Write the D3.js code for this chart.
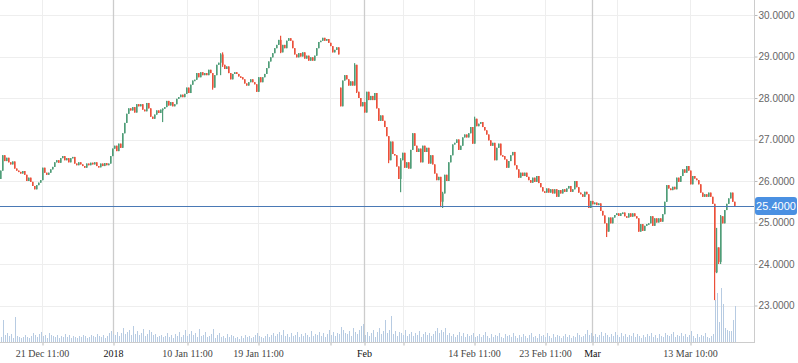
<!DOCTYPE html>
<html lang="en">
<head>
<meta charset="UTF-8">
<title>Price chart</title>
<style>
  body { margin: 0; padding: 0; background: #fff; }
  svg { display: block; }
  .yaxis text { font-family: "Liberation Sans", Arial, sans-serif; font-size: 10px; fill: #666; }
  .xaxis text { font-family: "Liberation Serif", "Times New Roman", serif; font-size: 10px; fill: #444; }
  .xaxis text.month { fill: #111; }
</style>
</head>
<body>
<svg width="798" height="363"></svg>
<script src="https://d3js.org/d3.v7.min.js"></script>
<script>
// closing prices, one per candle (open = previous close unless listed in gapOpen)
const closes = [
  26.25, 26.62, 26.48, 26.56, 26.45, 26.4, 26.47, 26.3, 26.25, 26.22, 26.18, 26.24, 26.15, 26.0, 26.08, 25.98, 25.88, 25.8, 25.9, 25.96,
  26.02, 26.32, 26.2, 26.15, 26.2, 26.28, 26.34, 26.45, 26.5, 26.44, 26.55, 26.6, 26.5, 26.55, 26.45, 26.55, 26.58, 26.42, 26.38, 26.45,
  26.4, 26.36, 26.32, 26.42, 26.38, 26.44, 26.4, 26.45, 26.36, 26.33, 26.42, 26.36, 26.43, 26.38, 26.42, 26.6, 26.78, 26.85, 26.72, 26.9,
  26.8, 27.15, 27.4, 27.62, 27.75, 27.7, 27.78, 27.65, 27.85, 27.8, 27.85, 27.72, 27.68, 27.88, 27.75, 27.55, 27.5, 27.6, 27.7, 27.64,
  27.72, 27.74, 27.78, 27.93, 27.82, 27.9, 27.8, 27.85, 27.98, 28.02, 28.08, 28.02, 28.1, 28.25, 28.12, 28.32, 28.42, 28.44, 28.6, 28.5,
  28.62, 28.55, 28.6, 28.55, 28.68, 28.6, 28.25, 28.55, 28.8, 28.85, 29.05, 28.8, 28.7, 28.76, 28.6, 28.45, 28.58, 28.62, 28.58, 28.52,
  28.5, 28.45, 28.35, 28.3, 28.38, 28.45, 28.38, 28.33, 28.15, 28.5, 28.38, 28.5, 28.58, 28.72, 28.88, 28.98, 29.08, 29.2, 29.28, 29.4,
  29.1, 29.28, 29.2, 29.38, 29.44, 29.38, 29.2, 29.05, 28.98, 29.08, 29.0, 29.1, 28.95, 29.02, 28.9, 28.98, 28.9, 29.02, 29.2, 29.35,
  29.38, 29.45, 29.38, 29.42, 29.33, 29.25, 29.1, 29.16, 29.22, 29.05, 27.8, 28.42, 28.55, 28.45, 28.3, 28.4, 28.3, 28.8, 28.15, 28.0,
  27.8, 27.9, 27.65, 28.15, 27.95, 28.05, 27.95, 28.12, 27.75, 27.45, 27.58, 27.45, 27.3, 27.08, 26.5, 26.95, 26.65, 26.62, 26.35, 26.05,
  26.5, 26.68, 26.32, 26.45, 26.3, 26.75, 27.15, 26.85, 26.7, 26.78, 26.45, 26.85, 26.7, 26.8, 26.42, 26.62, 26.4, 26.18, 26.02, 26.1,
  25.5, 25.7, 26.15, 26.0, 26.45, 26.62, 26.88, 26.92, 27.0, 26.75, 26.85, 27.05, 27.12, 27.05, 27.15, 27.3, 26.9, 27.5, 27.32, 27.38,
  27.42, 27.3, 27.22, 27.12, 26.98, 26.85, 26.92, 26.5, 26.8, 26.9, 26.62, 26.6, 26.52, 26.32, 26.48, 26.62, 26.7, 26.38, 26.28, 26.08,
  26.2, 26.12, 26.2, 26.1, 26.02, 25.96, 26.08, 25.98, 26.12, 25.95, 25.85, 25.75, 25.72, 25.82, 25.72, 25.8, 25.7, 25.8, 25.62, 25.78,
  25.7, 25.8, 25.74, 25.82, 25.88, 25.74, 25.8, 26.0, 25.85, 25.72, 25.68, 25.62, 25.74, 25.68, 25.35, 25.52, 25.44, 25.48, 25.42, 25.46,
  25.28, 25.17, 24.98, 24.78, 25.12, 24.98, 25.12, 25.18, 25.22, 25.16, 25.22, 25.24, 25.15, 25.12, 25.22, 25.14, 25.22, 25.15, 25.1, 24.78,
  24.96, 24.8, 24.92, 24.96, 24.98, 25.15, 24.92, 25.1, 25.0, 25.1, 25.02, 25.2, 25.5, 25.9, 25.82, 25.78, 25.86, 25.8, 26.08, 25.98,
  26.12, 26.28, 26.2, 26.36, 26.25, 25.92, 26.12, 26.06, 26.02, 25.92, 25.72, 25.62, 25.68, 25.62, 25.72, 25.62, 25.45, 23.8, 24.4, 24.05,
  25.15, 24.98, 25.3, 25.45, 25.58, 25.72, 25.5, 25.4
];
const gapIdx = [0, 170];
const gapOpen = [26.05, 28.25];

// candles with visible wicks
const wickIdx = [81, 106, 110, 111, 140, 177, 178, 194, 200, 220, 221, 237, 303, 357, 358, 359, 360];
const wickLow = [27.42, 28.2, 28.55, 28.75, 29.08, 28.3, 28.12, 26.43, 25.73, 25.37, 25.35, 26.9, 24.65, 23.13, 23.78, 24.0, 24.0];
const wickHigh = [27.75, 28.6, 29.08, 29.1, 29.5, 28.84, 28.8, 27.08, 26.55, 26.1, 25.74, 27.55, 24.98, 25.45, 24.87, 24.4, 25.18];

const volumes = [
  5, 22, 7, 9, 6, 8, 4, 25, 6, 5, 4, 5, 7, 5, 4, 6, 9, 7, 5, 8,
  10, 6, 7, 4, 9, 7, 6, 5, 7, 4, 6, 5, 8, 5, 7, 4, 6, 5, 4, 6,
  5, 7, 6, 4, 5, 7, 6, 5, 8, 6, 5, 7, 4, 6, 9, 11, 8, 7, 10, 6,
  9, 14, 8, 10, 12, 7, 16, 8, 11, 7, 9, 13, 6, 8, 12, 10, 7, 8, 5, 6,
  7, 5, 6, 9, 5, 7, 4, 8, 6, 10, 5, 7, 12, 6, 8, 11, 7, 9, 5, 13,
  6, 7, 10, 5, 6, 8, 13, 4, 7, 9, 5, 6, 4, 8, 5, 7, 6, 4, 5, 3,
  6, 4, 7, 5, 6, 4, 5, 7, 9, 6, 5, 4, 6, 8, 5, 7, 9, 6, 8, 10,
  7, 12, 6, 8, 5, 9, 6, 7, 10, 5, 8, 6, 9, 7, 5, 11, 6, 8, 7, 10,
  6, 9, 5, 8, 12, 7, 10, 6, 9, 8, 15, 12, 9, 8, 11, 6, 14, 10, 8, 12,
  16, 18, 7, 10, 6, 9, 12, 5, 10, 14, 8, 11, 22, 9, 12, 26, 8, 11, 6, 10,
  9, 7, 12, 6, 8, 10, 6, 9, 7, 11, 5, 8, 10, 7, 9, 6, 8, 11, 14, 9,
  12, 10, 14, 7, 9, 6, 8, 5, 7, 10, 6, 9, 5, 8, 6, 7, 9, 5, 6, 8,
  5, 7, 10, 6, 4, 8, 5, 7, 6, 9, 5, 4, 8, 6, 7, 5, 9, 6, 4, 7,
  5, 8, 6, 4, 7, 9, 5, 6, 4, 8, 6, 7, 5, 9, 6, 4, 8, 5, 7, 6,
  4, 6, 8, 5, 7, 4, 6, 5, 9, 7, 5, 6, 8, 12, 7, 9, 6, 8, 5, 7,
  10, 6, 9, 7, 5, 8, 6, 10, 7, 5, 9, 6, 8, 5, 7, 6, 9, 5, 8, 6,
  4, 7, 5, 8, 6, 9, 5, 7, 4, 8, 6, 5, 9, 7, 6, 8, 10, 5, 7, 6,
  9, 6, 8, 5, 7, 11, 6, 4, 8, 5, 7, 6, 9, 5, 4, 6, 8, 42, 49, 20,
  54, 38, 14, 12, 11, 11, 22, 36
];

const priceTicks = [23, 24, 25, 26, 27, 28, 29, 30];
const lastPrice = 25.4;

// time axis, positions given as candle index
const tickPos = [20.5, 93, 128.5, 164.5, 201, 236.5, 272, 308, 344.5];
const tickText = ["21 Dec 11:00", "10 Jan 11:00", "19 Jan 11:00", "", "", "14 Feb 11:00", "23 Feb 11:00", "", "13 Mar 10:00"];
const monthPos = [56, 181.5, 295.5];
const monthText = ["2018", "Feb", "Mar"];

const svg = d3.select("svg");
const plotRight = 754, plotBottom = 342;

const x = d3.scaleLinear().domain([0, closes.length - 1]).range([1, 735]);
const y = d3.scaleLinear().domain([23, 30]).range([305.5, 15]);
const v = d3.scaleLinear().domain([0, 60]).range([plotBottom, plotBottom - 60]);
const crisp = p => Math.round(p) + 0.5;

// build candles
const candles = closes.map((c, i) => {
  const g = gapIdx.indexOf(i);
  const o = g >= 0 ? gapOpen[g] : closes[i - 1];
  const w = wickIdx.indexOf(i);
  const lo = w >= 0 ? Math.min(wickLow[w], o, c) : Math.min(o, c);
  const hi = w >= 0 ? Math.max(wickHigh[w], o, c) : Math.max(o, c);
  return { i, o, c, lo, hi, vol: volumes[i] };
});

// grid
svg.append("g").selectAll("line").data(priceTicks).join("line")
  .attr("x1", 0).attr("x2", plotRight)
  .attr("y1", d => crisp(y(d))).attr("y2", d => crisp(y(d)))
  .attr("stroke", "#eeeeee");

svg.append("g").selectAll("line").data(tickPos).join("line")
  .attr("x1", d => crisp(x(d))).attr("x2", d => crisp(x(d)))
  .attr("y1", 0).attr("y2", plotBottom)
  .attr("stroke", "#eeeeee");

svg.append("g").selectAll("line").data(monthPos).join("line")
  .attr("x1", d => crisp(x(d))).attr("x2", d => crisp(x(d)))
  .attr("y1", 0).attr("y2", plotBottom)
  .attr("stroke", "#cccccc").attr("stroke-width", 1.3);

// volume
svg.append("g").selectAll("rect").data(candles).join("rect")
  .attr("x", d => Math.round(x(d.i)))
  .attr("width", 1)
  .attr("y", d => v(d.vol))
  .attr("height", d => plotBottom - v(d.vol))
  .attr("fill", "#b7cbe2");

// candles (left edge on an even pixel so the colour survives)
const colour = d => d.c >= d.o ? "#4f9d78" : "#eb503a";
const left = d => Math.round(x(d.i)) - 1;
const cg = svg.append("g");
cg.selectAll("rect.wick").data(candles).join("rect")
  .attr("class", "wick")
  .attr("x", left)
  .attr("width", 1.2)
  .attr("y", d => y(d.hi))
  .attr("height", d => Math.max(1, y(d.lo) - y(d.hi)))
  .attr("fill", colour);
cg.selectAll("rect.body").data(candles).join("rect")
  .attr("class", "body")
  .attr("x", left)
  .attr("width", 1.6)
  .attr("y", d => y(Math.max(d.o, d.c)))
  .attr("height", d => Math.max(1.5, Math.abs(y(d.o) - y(d.c))))
  .attr("fill", colour);

// last price line
svg.append("line")
  .attr("x1", 0).attr("x2", plotRight)
  .attr("y1", crisp(y(lastPrice))).attr("y2", crisp(y(lastPrice)))
  .attr("stroke", "#4a79b5");

// axes
const yAxis = svg.append("g").attr("class", "yaxis")
  .attr("transform", `translate(${plotRight + 0.5},0)`)
  .call(d3.axisRight(y).tickValues(priceTicks).tickSize(3).tickPadding(1).tickFormat(d3.format(".4f")));
yAxis.select(".domain").remove();
yAxis.selectAll("line").attr("stroke", "#bbbbbb");

const xAxis = svg.append("g").attr("class", "xaxis")
  .attr("transform", `translate(0,${plotBottom + 0.5})`)
  .call(d3.axisBottom(x).tickValues(tickPos.concat(monthPos)).tickSize(3).tickPadding(4)
    .tickFormat((d, i) => i < tickPos.length ? tickText[i] : monthText[i - tickPos.length]));
xAxis.select(".domain").remove();
xAxis.selectAll(".tick line").attr("stroke", "#bbbbbb").attr("transform", d => `translate(${crisp(x(d)) - x(d)},0)`);
xAxis.selectAll(".tick text").classed("month", (d, i) => i >= tickPos.length);

svg.append("line")
  .attr("x1", plotRight + 0.5).attr("x2", plotRight + 0.5)
  .attr("y1", 0).attr("y2", plotBottom + 1)
  .attr("stroke", "#cccccc");
svg.append("line")
  .attr("x1", 0).attr("x2", plotRight)
  .attr("y1", plotBottom + 0.5).attr("y2", plotBottom + 0.5)
  .attr("stroke", "#cccccc");

// last price label
const ly = y(lastPrice);
svg.append("rect")
  .attr("x", plotRight + 1).attr("y", ly - 9)
  .attr("width", 42).attr("height", 18).attr("rx", 3)
  .attr("fill", "#4a90e2");
svg.append("text")
  .attr("x", plotRight + 22).attr("y", ly + 4)
  .attr("text-anchor", "middle")
  .attr("font-family", "Liberation Sans, Arial, sans-serif")
  .attr("font-size", 11)
  .attr("fill", "#fff")
  .text(d3.format(".4f")(lastPrice));
</script>
</body>
</html>
